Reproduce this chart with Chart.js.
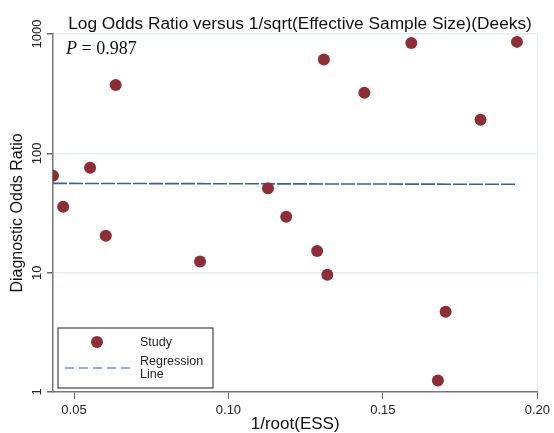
<!DOCTYPE html>
<html>
<head>
<meta charset="utf-8">
<script src="https://cdn.jsdelivr.net/npm/chart.js@4.4.1/dist/chart.umd.min.js"></script>
<style>
  html, body { margin: 0; padding: 0; background: #fff; }
  canvas { display: block; }
</style>
</head>
<body>
<canvas id="deeksChart" width="554" height="433"></canvas>
<script>
// study points: x = 1/root(ESS), y = diagnostic odds ratio
var studyX = [0.0432, 0.0465, 0.0552, 0.0635, 0.0603, 0.0908, 0.1128, 0.1187, 0.1287, 0.1320,
              0.1309, 0.1440, 0.1592, 0.1816, 0.1934, 0.1703, 0.1678];
var studyY = [65, 35.6, 75.7, 374, 20.4, 12.4, 50.9, 29.4, 15.2, 9.6,
              610, 322, 842, 191, 859, 4.7, 1.25];
// regression line end points
var regX = [0.0432, 0.1934];
var regY = [56, 55];
var xTicks = [0.05, 0.10, 0.15, 0.20];
var yTicks = [1, 10, 100, 1000];
var pValue = '0.987';
var chartTitle = 'Log Odds Ratio versus 1/sqrt(Effective Sample Size)(Deeks)';

var sans = '"Liberation Sans", Arial, sans-serif';
var serif = '"Liberation Serif", "Times New Roman", serif';
var dotColor = '#8f2d36';
var lineColor = '#35628e';

var studyPoints = studyX.map(function (x, i) { return { x: x, y: studyY[i] }; });
var regPoints = regX.map(function (x, i) { return { x: x, y: regY[i] }; });

// title, rotated y tick labels, P value and the legend box
var extras = {
  id: 'extras',
  afterDraw: function (chart) {
    var ctx = chart.ctx;
    var ys = chart.scales.y;
    var area = chart.chartArea;
    ctx.save();

    ctx.fillStyle = '#111';
    ctx.font = '17.3px ' + sans;
    ctx.textAlign = 'center';
    ctx.textBaseline = 'middle';
    ctx.fillText(chartTitle, 300, 24);

    ctx.fillStyle = '#222';
    ctx.font = '13px ' + sans;
    yTicks.forEach(function (v) {
      var py = ys.getPixelForValue(v);
      ctx.save();
      ctx.translate(37, py);
      ctx.rotate(-Math.PI / 2);
      ctx.fillText(String(v), 0, 0);
      ctx.restore();
    });

    // P value
    ctx.textAlign = 'left';
    ctx.textBaseline = 'alphabetic';
    ctx.fillStyle = '#111';
    ctx.font = 'italic 18px ' + serif;
    ctx.fillText('P', area.left + 13, 54);
    var pw = ctx.measureText('P').width;
    ctx.font = '18px ' + serif;
    ctx.fillText(' = ' + pValue, area.left + 13 + pw, 54);

    // legend
    var bx = 58, by = 328, bw = 155, bh = 60;
    ctx.fillStyle = '#fff';
    ctx.fillRect(bx, by, bw, bh);
    ctx.strokeStyle = '#444';
    ctx.lineWidth = 1.2;
    ctx.strokeRect(bx, by, bw, bh);

    var ds = chart.data.datasets;
    ctx.fillStyle = dotColor;
    ctx.beginPath();
    ctx.arc(97, 342, 6, 0, Math.PI * 2);
    ctx.fill();

    ctx.strokeStyle = '#6f98bf';
    ctx.lineWidth = 1.3;
    ctx.setLineDash([9, 5]);
    ctx.beginPath();
    ctx.moveTo(65, 368);
    ctx.lineTo(131, 368);
    ctx.stroke();
    ctx.setLineDash([]);

    ctx.fillStyle = '#222';
    ctx.font = '12.5px ' + sans;
    ctx.textBaseline = 'middle';
    ctx.fillText(ds[0].label, 140, 343);
    var words = ds[1].label.split(' ');
    ctx.fillText(words[0], 140, 362);
    ctx.fillText(words[1], 140, 375);

    ctx.restore();
  }
};

new Chart(document.getElementById('deeksChart'), {
  type: 'scatter',
  data: {
    datasets: [
      {
        label: 'Study',
        data: studyPoints,
        backgroundColor: dotColor,
        borderWidth: 0,
        pointRadius: 6,
        pointHoverRadius: 6
      },
      {
        type: 'line',
        label: 'Regression Line',
        data: regPoints,
        borderColor: lineColor,
        borderWidth: 1.6,
        borderDash: [14, 2],
        pointRadius: 0,
        fill: false
      }
    ]
  },
  options: {
    responsive: false,
    animation: false,
    layout: { padding: { left: 0, right: 14, top: 34, bottom: 0 } },
    scales: {
      x: {
        type: 'linear',
        min: 0.0432,
        max: 0.2,
        afterBuildTicks: function (s) { s.ticks = xTicks.map(function (v) { return { value: v }; }); },
        afterFit: function (s) { s.height = 41; },
        ticks: {
          color: '#222',
          font: { family: sans, size: 13 },
          padding: 4,
          callback: function (v) { return Number(v).toFixed(2); }
        },
        grid: {
          color: function (c) { return c.tick && c.tick.value === 0.2 ? '#e8f0f5' : 'rgba(0,0,0,0)'; },
          tickColor: '#666',
          tickLength: 7,
          lineWidth: 1
        },
        border: { color: '#777', width: 1.5 },
        title: {
          display: true,
          text: '1/root(ESS)',
          color: '#111',
          font: { family: sans, size: 17, lineHeight: 1 },
          padding: { top: 0, bottom: 0 }
        }
      },
      y: {
        type: 'logarithmic',
        min: 1,
        max: 1000,
        afterBuildTicks: function (s) { s.ticks = yTicks.map(function (v) { return { value: v }; }); },
        afterFit: function (s) { s.width = 53; },
        ticks: { display: false },
        grid: {
          color: function (c) { return c.tick && c.tick.value > 1 ? '#e2ecf3' : 'rgba(0,0,0,0)'; },
          tickColor: '#666',
          tickLength: 6,
          lineWidth: 1.5
        },
        border: { color: '#777', width: 1.5 },
        title: {
          display: true,
          text: 'Diagnostic Odds Ratio',
          color: '#111',
          font: { family: sans, size: 16 },
          padding: { top: 8, bottom: 0 }
        }
      }
    },
    plugins: {
      legend: { display: false },
      tooltip: { enabled: false },
      title: { display: false }
    }
  },
  plugins: [extras]
});
</script>
</body>
</html>
